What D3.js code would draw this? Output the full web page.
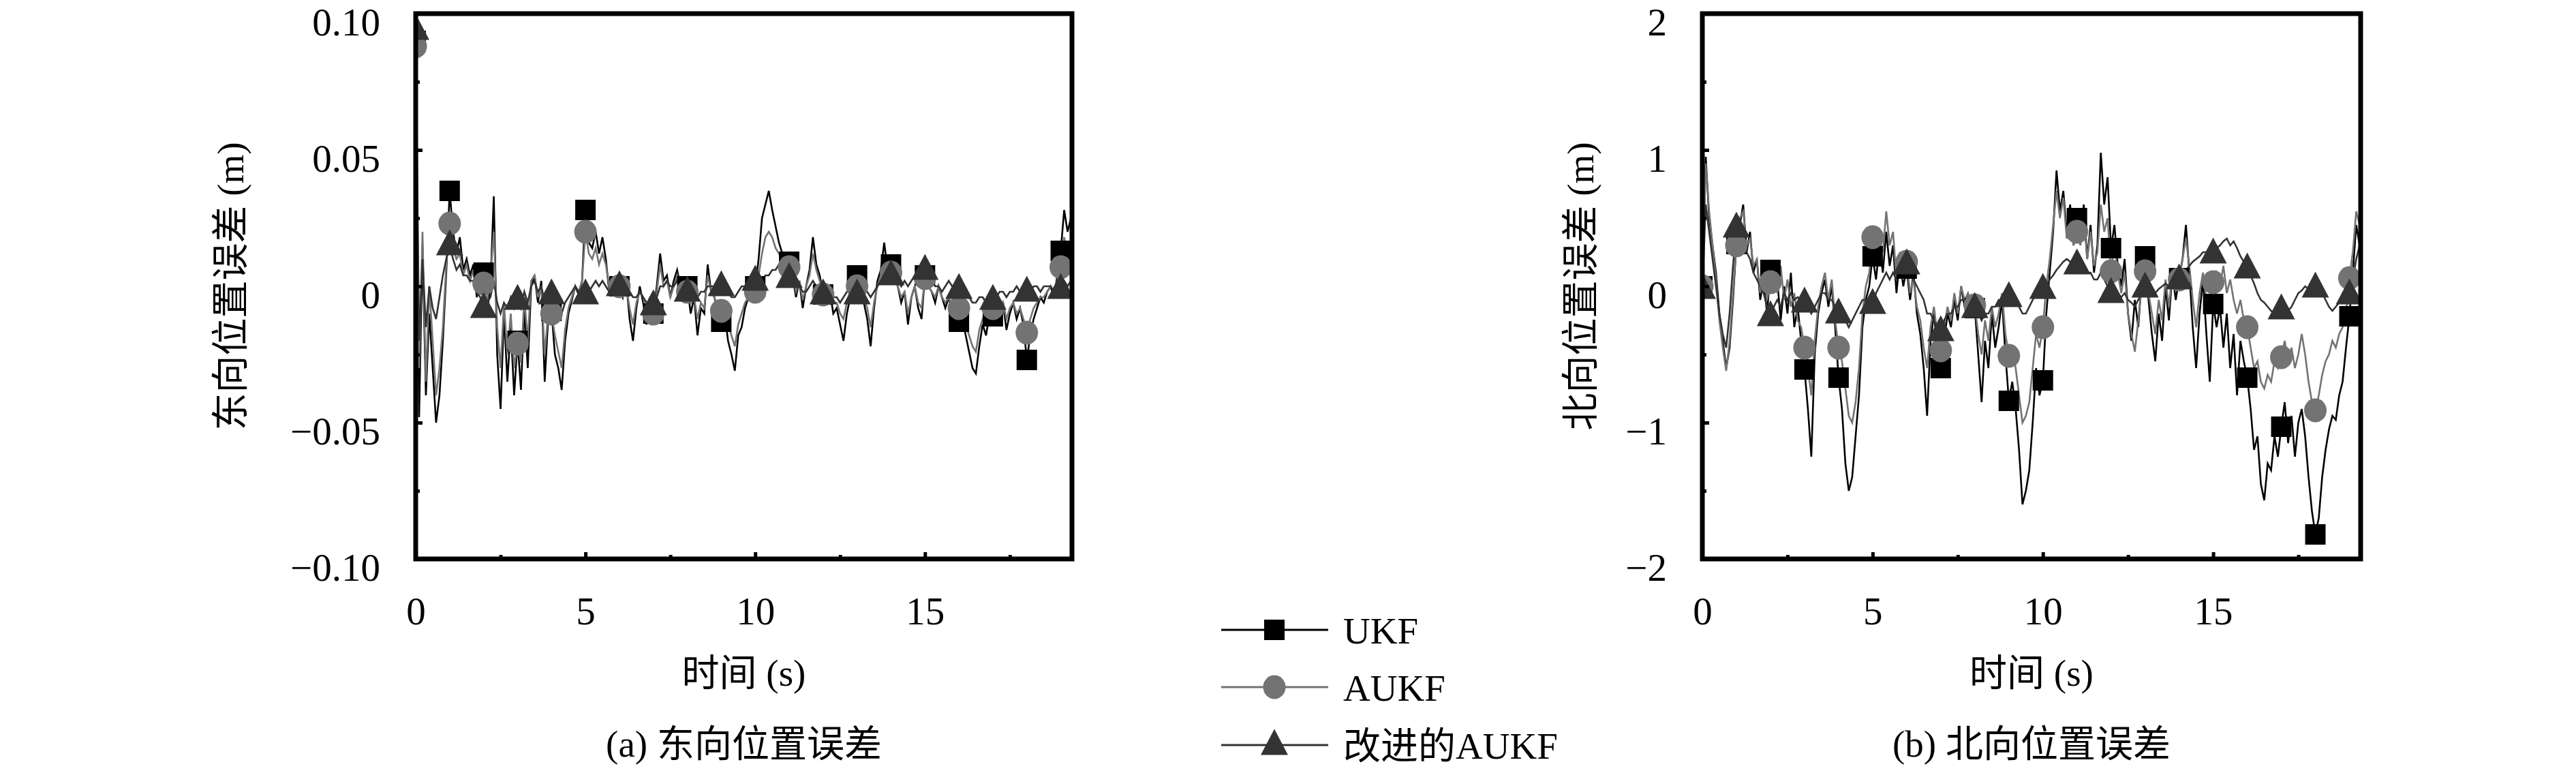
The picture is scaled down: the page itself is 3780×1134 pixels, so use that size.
<!DOCTYPE html>
<html><head><meta charset="utf-8">
<script src="https://cdn.jsdelivr.net/npm/d3@7"></script>
<style>body{margin:0;background:#fff}svg{display:block}</style>
</head><body>
<svg id="chart" width="3780" height="1134"></svg>
<script>
// ---------------- data ----------------
const seriesNames = ["UKF", "AUKF", "改进的AUKF"];
const xTicks = [0, 5, 10, 15];
const xMinorTicks = [2.5, 7.5, 12.5, 17.5];
const eastYTicks = [-0.10, -0.05, 0, 0.05, 0.10];
const eastYTickLabels = ["−0.10", "−0.05", "0", "0.05", "0.10"];
const eastYMinorTicks = [-0.075, -0.025, 0.025, 0.075];
const northYTicks = [-2, -1, 0, 1, 2];
const northYTickLabels = ["−2", "−1", "0", "1", "2"];
const northYMinorTicks = [-1.5, -0.5, 0.5, 1.5];
const sampleStep = 0.1;   // s, samples at t = 0.0 ... 19.3
const markerEvery = 10;   // one marker per second

// East position error (m)
const eastUKF = [
 .090,-.048,.015,-.040,-.010,-.030,-.050,-.040,-.020,.005,
 .035,.020,.012,.018,.006,.010,.004,.008,-.004,.002,
 .005,-.010,.000,.033,-.025,-.045,-.010,-.035,-.015,-.040,
 -.020,-.038,-.008,-.030,.000,.004,-.006,.002,-.035,-.012,
 -.009,-.025,-.030,-.038,-.020,-.010,-.005,.000,-.003,.002,
 .028,.016,.014,.020,.012,.018,.010,-.002,.000,-.002,
 .000,-.004,.002,-.012,-.020,-.008,.000,-.006,-.014,-.004,
 -.010,.000,.012,.002,.004,-.004,.002,.006,.000,-.006,
 .000,-.010,-.004,-.018,-.008,-.010,.008,-.002,-.004,-.010,
 -.013,-.010,-.020,-.025,-.031,-.018,-.015,-.008,-.004,-.002,
 .000,.010,.025,.030,.035,.028,.022,.016,.012,.006,
 .009,.004,-.004,.002,-.008,.000,.006,.018,.008,.004,
 -.003,-.006,-.002,-.010,-.008,-.014,-.020,-.010,-.004,.000,
 .004,.000,-.006,-.012,-.022,-.008,.002,.006,.016,.006,
 .008,.004,.000,-.006,-.002,-.014,-.004,.000,-.008,-.012,
 .004,.000,-.002,-.006,.000,-.004,-.008,-.004,-.010,-.006,
 -.013,-.012,-.018,-.024,-.030,-.032,-.022,-.014,-.018,-.010,
 -.011,-.008,-.012,-.006,-.016,-.010,-.006,-.012,-.008,-.014,
 -.027,-.018,-.012,-.008,-.004,-.006,-.002,.000,-.004,.004,
 .013,.028,.020,.025
];
const eastAUKF = [
 .088,-.030,.020,-.035,.000,-.020,-.040,-.030,-.015,.008,
 .023,.014,.010,.012,.004,.008,.002,.006,-.002,.002,
 .001,-.006,.004,.020,-.015,-.030,-.006,-.025,-.010,-.030,
 -.021,-.028,-.004,-.020,.002,.004,-.004,.000,-.025,-.010,
 -.010,-.018,-.024,-.030,-.016,-.008,-.004,.000,-.002,.002,
 .020,.012,.010,.014,.008,.012,.008,.000,.000,-.002,
 .000,-.002,.000,-.008,-.014,-.006,-.002,-.004,-.010,-.004,
 -.010,-.002,.008,.000,.002,-.004,.000,.004,-.002,-.004,
 -.002,-.006,-.004,-.012,-.006,-.008,.004,-.002,-.004,-.008,
 -.009,-.008,-.014,-.018,-.022,-.014,-.010,-.006,-.004,-.002,
 -.002,.004,.012,.018,.020,.018,.014,.012,.010,.006,
 .007,.004,-.002,.002,-.005,.000,.004,.012,.006,.002,
 -.003,-.004,-.002,-.006,-.006,-.010,-.012,-.006,-.002,.000,
 .000,.000,-.004,-.008,-.015,-.006,.000,.004,.010,.004,
 .005,.002,.000,-.004,-.002,-.010,-.004,.000,-.006,-.008,
 .003,.000,-.002,-.004,.000,-.004,-.006,-.004,-.008,-.006,
 -.008,-.010,-.014,-.018,-.022,-.024,-.016,-.012,-.014,-.008,
 -.008,-.006,-.010,-.006,-.012,-.008,-.006,-.010,-.008,-.012,
 -.017,-.012,-.008,-.006,-.004,-.004,-.002,.000,-.002,.002,
 .007,.018,.012,.015
];
const eastImproved = [
 .094,-.020,.010,-.015,.000,-.008,-.012,-.004,.004,.010,
 .015,.010,.006,.008,.004,.004,.002,.002,-.002,-.004,
 -.008,-.006,-.004,.002,-.006,-.010,-.006,-.008,-.004,-.008,
 -.005,-.008,-.002,-.006,.000,.002,-.002,.000,-.006,-.004,
 -.003,-.006,-.008,-.010,-.006,-.004,-.002,.000,-.002,-.002,
 -.003,-.002,.000,.002,.000,.002,.000,-.002,-.002,.000,
 .000,-.002,.000,-.002,-.004,-.004,-.002,-.004,-.006,-.006,
 -.007,-.004,.000,.000,.002,.000,.000,.002,.000,-.002,
 -.002,-.002,-.004,-.004,-.002,-.002,.000,.000,.000,.000,
 .000,-.002,-.002,-.004,-.004,-.002,.000,.000,.002,.002,
 .002,.000,.002,.004,.004,.006,.006,.008,.006,.004,
 .003,.002,.000,.000,-.002,-.002,.000,.002,.000,-.002,
 -.003,-.002,-.002,-.004,-.004,-.006,-.004,-.002,-.002,-.002,
 -.003,-.002,-.002,-.002,-.004,-.002,.000,.002,.004,.004,
 .004,.002,.002,.000,.002,.000,.002,.004,.004,.006,
 .006,.004,.002,.000,.000,-.002,.000,.002,.000,.000,
 -.001,-.002,-.004,-.004,-.006,-.006,-.004,-.004,-.006,-.004,
 -.005,-.004,-.002,-.002,-.004,-.002,-.002,.000,-.002,-.002,
 -.002,-.002,.000,.000,-.002,.000,.000,.000,-.002,.000,
 -.001,.002,.000,.002
];
// North position error (m)
const northUKF = [
 .00,.95,.50,.30,.10,-.20,-.40,-.60,-.45,-.10,
 .31,.45,.60,.25,.40,.10,.20,-.10,.05,-.20,
 .12,-.05,.05,-.25,.00,-.20,.10,-.30,-.15,-.40,
 -.61,-.90,-1.25,-.50,-.20,-.05,.05,-.15,.00,-.30,
 -.67,-.90,-1.30,-1.50,-1.40,-1.10,-.80,-.30,-.10,.00,
 .22,.05,.30,.10,.40,.15,.30,-.05,.20,.00,
 .13,-.10,.10,-.20,-.35,-.60,-.95,-.40,-.20,-.45,
 -.60,-.40,-.20,-.30,-.10,-.25,.00,-.15,-.05,-.20,
 -.16,-.50,-.85,-.40,-.60,-.20,-.45,-.30,-.10,-.50,
 -.84,-.70,-.90,-1.20,-1.60,-1.50,-1.35,-1.00,-.60,-.80,
 -.69,-.20,.10,.40,.85,.55,.70,.40,.60,.30,
 .50,.35,.60,.20,.45,.10,.30,.98,.60,.80,
 .28,.45,.15,.00,.20,-.20,-.40,-.10,-.30,.05,
 .22,-.10,-.35,-.55,-.20,-.40,.00,-.25,.10,-.10,
 .06,.20,.45,.10,-.30,-.60,-.20,.05,-.35,-.70,
 -.13,-.30,-.15,-.45,-.20,-.60,-.35,-.80,-.40,-.55,
 -.67,-.90,-1.20,-1.10,-1.45,-1.57,-1.30,-1.35,-1.10,-1.25,
 -1.03,-.85,-1.15,-.95,-1.25,-1.00,-.90,-1.10,-1.40,-1.65,
 -1.82,-1.70,-1.40,-1.20,-1.05,-.95,-.98,-.80,-.70,-.45,
 -.22,.10,.45,.30
];
const northAUKF = [
 .00,.90,.55,.30,.05,-.25,-.45,-.62,-.40,-.05,
 .30,.50,.55,.30,.35,.15,.20,-.05,.10,-.10,
 .03,.10,-.05,.15,-.10,.05,-.15,-.05,-.25,-.30,
 -.45,-.60,-.80,-.40,-.15,.00,.10,-.10,.05,-.25,
 -.45,-.55,-.75,-.95,-1.00,-.85,-.60,-.20,.00,.10,
 .36,.20,.35,.25,.55,.30,.40,.05,.25,.05,
 .18,-.05,.05,-.15,-.25,-.45,-.60,-.30,-.15,-.35,
 -.47,-.30,-.15,-.25,-.05,-.20,.00,-.10,-.05,-.15,
 -.14,-.35,-.50,-.25,-.40,-.15,-.30,-.20,-.05,-.35,
 -.51,-.45,-.60,-.80,-1.00,-.95,-.85,-.60,-.35,-.45,
 -.30,.00,.20,.45,.70,.50,.65,.35,.55,.30,
 .40,.30,.50,.20,.40,.15,.25,.60,.40,.50,
 .11,.30,.10,-.05,.10,-.20,-.35,-.48,-.25,.00,
 .11,-.05,-.20,-.35,-.10,-.25,.05,-.15,.10,.00,
 .05,.20,.35,.15,-.10,-.30,-.05,.10,-.10,-.20,
 .03,.10,.00,.15,-.05,.05,-.10,-.20,-.10,-.25,
 -.30,-.45,-.60,-.55,-.70,-.75,-.65,-.70,-.55,-.60,
 -.52,-.40,-.55,-.45,-.60,-.50,-.35,-.50,-.70,-.85,
 -.91,-.80,-.65,-.55,-.50,-.40,-.45,-.35,-.30,-.20,
 .06,.25,.55,.45
];
const northImproved = [
 -.02,.60,.40,.20,.00,-.20,-.35,-.45,-.20,.15,
 .43,.40,.35,.25,.20,.10,.05,.00,-.05,-.15,
 -.22,-.15,-.10,-.15,-.05,-.10,-.05,-.10,-.08,-.10,
 -.12,-.15,-.20,-.15,-.10,-.05,-.05,-.10,-.10,-.15,
 -.20,-.25,-.25,-.30,-.25,-.20,-.15,-.10,-.10,-.12,
 -.13,-.05,.00,.05,.10,.05,.10,.05,.10,.12,
 .16,.10,.05,.00,-.05,-.10,-.20,-.20,-.25,-.30,
 -.33,-.25,-.20,-.20,-.15,-.15,-.10,-.10,-.12,-.15,
 -.16,-.20,-.25,-.20,-.20,-.15,-.15,-.10,-.10,-.08,
 -.08,-.10,-.12,-.15,-.20,-.20,-.15,-.10,-.05,-.03,
 -.02,.00,.05,.08,.12,.15,.18,.20,.18,.15,
 .16,.15,.12,.10,.10,.05,.05,.10,.05,.00,
 -.05,-.02,-.05,-.08,-.05,-.10,-.12,-.15,-.10,-.05,
 -.01,.00,-.03,-.05,-.02,.00,.02,.00,.03,.05,
 .05,.08,.12,.15,.18,.20,.22,.25,.25,.22,
 .24,.28,.30,.33,.35,.30,.33,.28,.22,.18,
 .13,.08,.02,-.05,-.10,-.12,-.15,-.18,-.20,-.18,
 -.17,-.15,-.18,-.15,-.10,-.05,-.03,.00,-.02,.00,
 -.01,-.03,-.05,-.10,-.15,-.18,-.15,-.12,-.10,-.08,
 -.06,.05,.20,.30
];

// ---------------- drawing ----------------
const FONT = "'Liberation Serif','Noto Sans CJK SC',serif";
const colors = ["#000000", "#737373", "#333333"];
const svg = d3.select("#chart");
svg.append("rect").attr("width", 3780).attr("height", 1134).attr("fill", "#fff");

const times = eastUKF.map((_, i) => +(i * sampleStep).toFixed(1));

const panels = [
  {id: "east", left: 610, right: 1573, top: 20, bottom: 820,
   yDomain: [-0.1, 0.1], yTicks: eastYTicks, yLabels: eastYTickLabels, yMinor: eastYMinorTicks,
   series: [eastUKF, eastAUKF, eastImproved],
   yTitle: "东向位置误差 (m)", yTitleX: 338, caption: "(a) 东向位置误差"},
  {id: "north", left: 2498, right: 3464, top: 20, bottom: 820,
   yDomain: [-2, 2], yTicks: northYTicks, yLabels: northYTickLabels, yMinor: northYMinorTicks,
   series: [northUKF, northAUKF, northImproved],
   yTitle: "北向位置误差 (m)", yTitleX: 2319, caption: "(b) 北向位置误差"}
];

function trianglePath(w, h) {
  return `M0,${-h * 0.62}L${w / 2},${h * 0.38}L${-w / 2},${h * 0.38}Z`;
}

function drawMarker(g, kind, cx, cy) {
  if (kind === 0) {
    g.append("rect").attr("x", cx - 15).attr("y", cy - 15).attr("width", 30).attr("height", 30)
      .attr("fill", colors[0]);
  } else if (kind === 1) {
    g.append("ellipse").attr("cx", cx).attr("cy", cy).attr("rx", 16.5).attr("ry", 17.5)
      .attr("fill", colors[1]);
  } else {
    g.append("path").attr("d", trianglePath(40, 38)).attr("transform", `translate(${cx},${cy})`)
      .attr("fill", colors[2]);
  }
}

panels.forEach(p => {
  const x = d3.scaleLinear().domain([0, 19.33]).range([p.left, p.right]);
  const y = d3.scaleLinear().domain(p.yDomain).range([p.bottom, p.top]);
  const g = svg.append("g");

  g.append("clipPath").attr("id", "clip-" + p.id).append("rect")
    .attr("x", p.left).attr("y", p.top).attr("width", p.right - p.left).attr("height", p.bottom - p.top);

  const plot = g.append("g").attr("clip-path", `url(#clip-${p.id})`);
  const line = d3.line().x((d, i) => x(times[i])).y(d => y(d));

  p.series.forEach((s, k) => {
    plot.append("path").datum(s).attr("d", line).attr("fill", "none")
      .attr("stroke", colors[k]).attr("stroke-width", 2.6).attr("stroke-linejoin", "miter");
  });
  p.series.forEach((s, k) => {
    s.forEach((v, i) => {
      if (i % markerEvery === 0) drawMarker(plot, k, x(times[i]), y(v));
    });
  });

  // axes: inward ticks, labels
  const xAxis = d3.axisBottom(x).tickValues(xTicks).tickSize(-10).tickPadding(52).tickFormat(d3.format("d"));
  const xAx = g.append("g").attr("transform", `translate(0,${p.bottom})`).call(xAxis);
  const xMinor = d3.axisBottom(x).tickValues(xMinorTicks).tickSize(-6).tickFormat("");
  const xMi = g.append("g").attr("transform", `translate(0,${p.bottom})`).call(xMinor);

  const yAxis = d3.axisLeft(y).tickValues(p.yTicks).tickSize(-10).tickPadding(52)
    .tickFormat((d, i) => p.yLabels[i]);
  const yAx = g.append("g").attr("transform", `translate(${p.left},0)`).call(yAxis);
  const yMinor = d3.axisLeft(y).tickValues(p.yMinor).tickSize(-6).tickFormat("");
  const yMi = g.append("g").attr("transform", `translate(${p.left},0)`).call(yMinor);

  [xAx, xMi, yAx, yMi].forEach(a => {
    a.select(".domain").remove();
    a.selectAll(".tick line").attr("stroke", "#000").attr("stroke-width", 5);
    a.selectAll("text").attr("font-family", FONT).attr("font-size", 57).attr("fill", "#000");
  });
  yAx.selectAll("text").attr("dy", "0.56em");
  xAx.selectAll("text").attr("dy", "0.78em");

  // frame
  g.append("rect").attr("x", p.left).attr("y", p.top)
    .attr("width", p.right - p.left).attr("height", p.bottom - p.top)
    .attr("fill", "none").attr("stroke", "#000").attr("stroke-width", 7);

  const cx = (p.left + p.right) / 2;
  g.append("text").attr("x", cx).attr("y", 1006).attr("text-anchor", "middle")
    .attr("font-family", FONT).attr("font-size", 55).text("时间 (s)");
  g.append("text").attr("x", cx).attr("y", 1110).attr("text-anchor", "middle")
    .attr("font-family", FONT).attr("font-size", 55).text(p.caption);
  g.append("text").attr("transform", `translate(${p.yTitleX},${(p.top + p.bottom) / 2}) rotate(-90)`)
    .attr("text-anchor", "middle").attr("dy", "0.35em")
    .attr("font-family", FONT).attr("font-size", 55).text(p.yTitle);
});

// legend
const legendRows = [924, 1008, 1093];
const lg = svg.append("g");
seriesNames.forEach((name, k) => {
  const ly = legendRows[k];
  lg.append("line").attr("x1", 1792).attr("x2", 1949).attr("y1", ly).attr("y2", ly)
    .attr("stroke", colors[k]).attr("stroke-width", 3);
  drawMarker(lg, k, 1870, ly);
  lg.append("text").attr("x", 1971).attr("y", ly).attr("dy", "0.36em")
    .attr("font-family", FONT).attr("font-size", 55).text(name);
});
</script>
</body></html>
